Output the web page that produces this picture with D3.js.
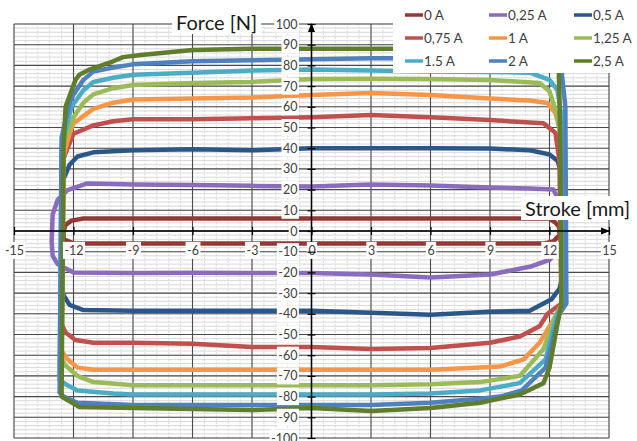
<!DOCTYPE html>
<html>
<head>
<meta charset="UTF-8">
<title>Force vs stroke</title>
<style>
  body { margin: 0; background: #fff; }
  svg { display: block; font-family: Lato, "Open Sans", sans-serif; }
</style>
</head>
<body>
<script src="https://d3js.org/d3.v7.min.js"></script>
<svg></svg>
<script>
// series names (legend order) and colours
let seriesNames = ["0 A", "0,25 A", "0,5 A", "0,75 A", "1 A", "1,25 A", "1.5 A", "2 A", "2,5 A"];
let seriesColors = ["#953735", "#8b6bbd", "#2b5688", "#c0504d", "#f79646", "#9bbb59", "#4bacc6", "#4f81bd", "#5f7d2b"];

// tick labels
let xTicks = [-15, -12, -9, -6, -3, 0, 3, 6, 9, 12, 15];
let yTicks = [-100, -90, -80, -70, -60, -50, -40, -30, -20, -10, 0, 10, 20, 30, 40, 50, 60, 70, 80, 90, 100];

// [stroke mm, force N] loops
let loop0A = [[-12.4,3],[-12.1,5],[-11.5,6],[-6,6],[0,6],[6,6],[12,6],[12.3,4],[12.5,2],[12.5,-2],[12.2,-5],[11.7,-6],[6,-6],[0,-6],[-6,-6],[-12,-6],[-12.5,-4],[-12.5,0],[-12.4,3]];
let loop025A = [[-13.05,8],[-12.8,15],[-12.3,19.8],[-11.3,23],[-9,22.5],[-6,22.2],[-3,21.8],[0,21.5],[3,22.5],[6,22],[9,21],[11,20.5],[12.2,20],[12.6,12],[12.7,-8],[12.3,-10.7],[12,-14],[11,-17.3],[9,-21],[6,-22.5],[3,-21],[0,-20.3],[-3,-20.3],[-6,-20.2],[-9,-20.3],[-12,-20],[-12.8,-16],[-13.05,-12],[-13.1,-5],[-13.05,8]];
let loop05A = [[-12.6,-28],[-12.6,20],[-12.5,25],[-12.2,32],[-11.8,36],[-11,38],[-9,39],[-6,39.5],[-3,39],[0,40],[3,40],[6,40],[9,39.8],[11,39],[12,37],[12.4,34],[12.6,28],[12.7,-20],[12.5,-28],[12.1,-33],[11.7,-35],[11,-38.5],[9,-39],[6,-40.5],[3,-39.5],[0,-38.5],[-3,-38.5],[-6,-38.5],[-9,-38.5],[-11.5,-38.2],[-12.2,-35.7],[-12.5,-31],[-12.6,-28]];
let loop075A = [[-12.6,-45],[-12.5,35],[-12.3,40],[-12,47],[-11,51],[-10,53],[-9,54],[-6,54],[-3,54.5],[0,55],[3,56],[6,55],[9,53.6],[11.7,52],[12.3,47.5],[12.5,34],[12.6,-35],[11.9,-40],[11.5,-46],[10.5,-51],[9,-54],[6,-56.5],[3,-57],[0,-56],[-3,-56],[-6,-54.5],[-9,-54],[-11,-54],[-11.9,-52.7],[-12.4,-49],[-12.6,-45]];
let loop1A = [[-12.6,-58],[-12.5,35],[-12.4,40],[-12.2,47],[-12,52],[-11,59],[-10,62],[-9,63.5],[-6,64],[-3,64.5],[0,65.7],[3,66.7],[6,65.7],[9,64],[11,63],[11.9,61.8],[12.3,57],[12.5,50],[12.6,40],[12.65,-35],[12.2,-43],[11.5,-54],[10.7,-62],[9.5,-65.5],[8.5,-66],[6,-67],[3,-67],[0,-67],[-3,-67],[-6,-67],[-9,-67],[-11,-67],[-11.8,-66],[-12.3,-62],[-12.6,-58]];
let loop125A = [[-12.6,-62],[-12.5,40],[-12.4,45],[-12,55],[-11.5,62],[-11,66],[-10,69],[-9,70.5],[-6,71.5],[-3,72],[0,73.4],[3,73.5],[6,73.4],[9,73],[11.5,71.5],[12,67.5],[12.3,58.5],[12.6,45],[12.65,-35],[12.3,-41],[11.7,-57],[10.5,-70],[8.5,-73],[6,-74],[3,-74.5],[0,-74.5],[-3,-74.5],[-6,-74.5],[-9,-74.5],[-11,-73],[-11.8,-70],[-12.4,-65],[-12.6,-62]];
let loop15A = [[-12.7,-72],[-12.6,40],[-12.5,45],[-12.1,60],[-11.5,68],[-11,72],[-10,74],[-9,75.5],[-6,76.5],[-3,77.5],[0,78],[3,77.5],[6,77],[9,76.8],[11,76.5],[12,73],[12.4,68],[12.7,50],[12.75,-35],[12.4,-40],[11.8,-62],[10.5,-73.5],[8.5,-77],[6,-78.5],[3,-79],[0,-79],[-3,-79],[-6,-79],[-9,-79],[-10,-78.5],[-11.8,-77],[-12.4,-74],[-12.7,-72]];
let loop2A = [[-12.7,-78],[-12.6,45],[-12.2,62],[-12,66],[-11.5,73],[-11,77],[-10,79],[-9,80.5],[-6,82],[-3,82.5],[0,83],[3,83.5],[6,83.5],[9,83.5],[11,83.5],[12.2,83],[12.6,78],[12.8,60],[12.85,-35],[12.5,-40],[11.8,-66],[10.6,-77],[9.5,-80],[8.5,-81],[6,-83],[3,-84],[0,-84],[-3,-84],[-6,-84],[-9,-84],[-11.8,-83],[-12.5,-80],[-12.7,-78]];
let loop25A = [[-12.6,-78],[-12.5,40],[-12.4,60],[-11.9,73],[-11.7,75.5],[-11.2,78],[-10,82],[-9.5,84],[-8.6,85],[-6,87.4],[-3,88],[0,88],[3,88],[6,88],[9,88],[12,88],[12.45,87],[12.55,40],[12.6,-35],[12.4,-45],[12,-66],[11.7,-73.5],[10.5,-79],[8.5,-83],[6,-85.5],[3,-87],[0,-85.5],[-3,-86.5],[-6,-86],[-9,-85.5],[-11.7,-85],[-12.6,-80],[-12.6,-78]];

let loops = [loop0A, loop025A, loop05A, loop075A, loop1A, loop125A, loop15A, loop2A, loop25A];

let svg = d3.select("svg")
    .attr("width", 637)
    .attr("height", 441);

let xScale = d3.scaleLinear().domain([-15, 15]).range([14, 609]);
let yScale = d3.scaleLinear().domain([-100, 100]).range([438, 24]);

// minor grid
let grid = svg.append("g");
grid.selectAll(".hminor")
    .data(d3.range(-100, 100.01, 2))
    .enter().append("line")
    .attr("x1", xScale(-15)).attr("x2", xScale(15))
    .attr("y1", d => yScale(d)).attr("y2", d => yScale(d))
    .attr("stroke", "#cfcfcf").attr("stroke-width", 0.8);
grid.selectAll(".vminor")
    .data(d3.range(-15, 15.001, 0.6))
    .enter().append("line")
    .attr("y1", yScale(-100)).attr("y2", yScale(100))
    .attr("x1", d => xScale(d)).attr("x2", d => xScale(d))
    .attr("stroke", "#cfcfcf").attr("stroke-width", 0.8)
    .attr("stroke-dasharray", "2,1.5");

// major grid
grid.selectAll(".hmajor")
    .data(yTicks)
    .enter().append("line")
    .attr("x1", xScale(-15)).attr("x2", xScale(15))
    .attr("y1", d => yScale(d)).attr("y2", d => yScale(d))
    .attr("stroke", "#4a4a4a").attr("stroke-width", 1.1);
grid.selectAll(".vmajor")
    .data(xTicks)
    .enter().append("line")
    .attr("y1", yScale(-100)).attr("y2", yScale(100))
    .attr("x1", d => xScale(d)).attr("x2", d => xScale(d))
    .attr("stroke", "#4a4a4a").attr("stroke-width", 1.1);

// series loops
let line = d3.line()
    .x(d => xScale(d[0]))
    .y(d => yScale(d[1]));

svg.append("g").selectAll("path")
    .data(loops)
    .enter().append("path")
    .attr("d", line)
    .attr("fill", "none")
    .attr("stroke", (d, i) => seriesColors[i])
    .attr("stroke-width", 4.5)
    .attr("stroke-linejoin", "round")
    .attr("stroke-linecap", "round");

// axes through the origin
let defs = svg.append("defs");
defs.append("marker")
    .attr("id", "arrow")
    .attr("viewBox", "0 0 10 10")
    .attr("refX", 9).attr("refY", 5)
    .attr("markerWidth", 6).attr("markerHeight", 6)
    .attr("orient", "auto")
    .append("path").attr("d", "M0,1 L10,5 L0,9 z").attr("fill", "#000");

let xAxis = svg.append("g")
    .attr("transform", "translate(0," + yScale(0) + ")")
    .call(d3.axisBottom(xScale).tickValues(xTicks).tickSize(4).tickPadding(11).tickFormat(d3.format("d")));
let yAxis = svg.append("g")
    .attr("transform", "translate(" + xScale(0) + ",0)")
    .call(d3.axisLeft(yScale).tickValues(yTicks).tickSize(4).tickPadding(10).tickFormat(d3.format("d")));

[xAxis, yAxis].forEach(ax => {
    ax.select(".domain").remove();
    ax.selectAll(".tick line").attr("stroke", "#000").attr("stroke-width", 1.2);
    ax.selectAll(".tick text")
        .attr("fill", "#404040")
        .style("font-size", "12.5px")
        .style("font-family", "Lato, sans-serif")
        .text(function() { return d3.select(this).text().replace("−", "-"); });
});
xAxis.selectAll(".tick line").attr("y1", -4).attr("y2", 4);
yAxis.selectAll(".tick line").attr("x1", -4).attr("x2", 4);

svg.append("line")
    .attr("x1", xScale(-15)).attr("x2", xScale(15))
    .attr("y1", yScale(0)).attr("y2", yScale(0))
    .attr("stroke", "#000").attr("stroke-width", 1.5)
    .attr("marker-end", "url(#arrow)");
svg.append("line")
    .attr("x1", xScale(0)).attr("x2", xScale(0))
    .attr("y1", yScale(-100)).attr("y2", yScale(100))
    .attr("stroke", "#000").attr("stroke-width", 1.5)
    .attr("marker-end", "url(#arrow)");

// white boxes behind labels
function boxText(sel, pad) {
    sel.each(function() {
        let b = this.getBBox();
        d3.select(this.parentNode).insert("rect", "text")
            .attr("x", b.x - pad).attr("y", b.y - 1)
            .attr("width", b.width + 2 * pad).attr("height", b.height + 2)
            .attr("fill", "#fff");
    });
}
xAxis.raise();
yAxis.raise();
boxText(xAxis.selectAll(".tick text"), 1.5);
boxText(yAxis.selectAll(".tick text"), 1.5);

// axis titles
function title(txt, x, y) {
    let g = svg.append("g");
    let t = g.append("text")
        .attr("x", x).attr("y", y)
        .attr("fill", "#1a1a1a")
        .style("font-size", "20px")
        .style("font-family", "Lato, sans-serif")
        .text(txt);
    let b = t.node().getBBox();
    g.insert("rect", "text")
        .attr("x", b.x - 4).attr("y", b.y)
        .attr("width", b.width + 8).attr("height", b.height)
        .attr("fill", "#fff");
}
title("Force [N]", 176, 30);
title("Stroke [mm]", 525, 216);

// legend
let legend = svg.append("g");
legend.append("rect")
    .attr("x", 393).attr("y", 0)
    .attr("width", 244).attr("height", 73)
    .attr("fill", "#fff");
let legendX = [405, 489, 574];
let legendY = [15, 38, 61];
seriesNames.forEach((name, i) => {
    let lx = legendX[i % 3], ly = legendY[Math.floor(i / 3)];
    legend.append("line")
        .attr("x1", lx).attr("x2", lx + 18)
        .attr("y1", ly).attr("y2", ly)
        .attr("stroke", seriesColors[i]).attr("stroke-width", 3.5);
    legend.append("text")
        .attr("x", lx + 19).attr("y", ly + 4.5)
        .attr("fill", "#404040")
        .style("font-size", "13.5px")
        .text(name);
});
</script>
</body>
</html>
